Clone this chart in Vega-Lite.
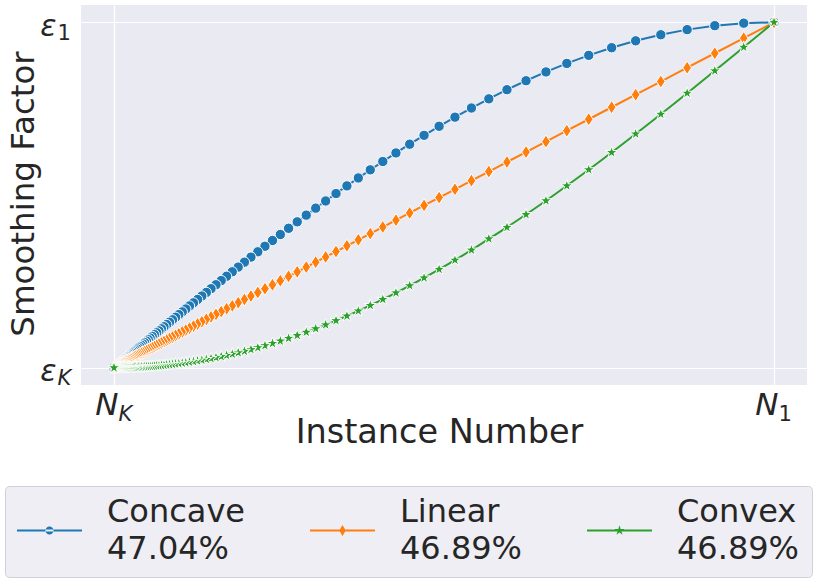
{
  "$schema": "https://vega.github.io/schema/vega-lite/v6.json",
  "width": 726,
  "height": 380,
  "autosize": {"type": "none"},
  "padding": {"left": 81, "top": 5, "right": 6, "bottom": 200},
  "background": "white",
  "config": {
    "font": "DejaVu Sans",
    "view": {"fill": "#eaeaf2", "stroke": null},
    "axis": {
      "domain": false,
      "ticks": false,
      "labelColor": "#262626",
      "titleColor": "#262626",
      "labelFont": "DejaVu Sans",
      "titleFont": "DejaVu Sans",
      "titleFontWeight": "normal",
      "gridColor": "white",
      "gridWidth": 1.2,
      "gridOpacity": 1,
      "labelFlush": false,
      "labelOverlap": false
    },
    "legend": {
      "labelFont": "DejaVu Sans",
      "labelFontSize": 32,
      "labelColor": "#262626",
      "labelLimit": 0,
      "labelOffset": 25,
      "symbolSize": 4225,
      "symbolStrokeWidth": 0,
      "columnPadding": 64,
      "padding": 12,
      "fillColor": "#eeeef4",
      "strokeColor": "#d0d0d8",
      "cornerRadius": 4
    }
  },
  "data": {
    "values": [
      {"curve": "Concave", "x": 1, "y": 1}, {"curve": "Concave", "x": 0.9541, "y": 0.9974}, {"curve": "Concave", "x": 0.9103, "y": 0.9901}, {"curve": "Concave", "x": 0.8684, "y": 0.9787}, {"curve": "Concave", "x": 0.8285, "y": 0.9639},
      {"curve": "Concave", "x": 0.7904, "y": 0.9463}, {"curve": "Concave", "x": 0.754, "y": 0.9263}, {"curve": "Concave", "x": 0.7193, "y": 0.9043}, {"curve": "Concave", "x": 0.6861, "y": 0.8809}, {"curve": "Concave", "x": 0.6545, "y": 0.8563},
      {"curve": "Concave", "x": 0.6243, "y": 0.8308}, {"curve": "Concave", "x": 0.5954, "y": 0.8048}, {"curve": "Concave", "x": 0.5679, "y": 0.7784}, {"curve": "Concave", "x": 0.5416, "y": 0.7518}, {"curve": "Concave", "x": 0.5166, "y": 0.7253},
      {"curve": "Concave", "x": 0.4926, "y": 0.6989}, {"curve": "Concave", "x": 0.4698, "y": 0.6728}, {"curve": "Concave", "x": 0.448, "y": 0.647}, {"curve": "Concave", "x": 0.4272, "y": 0.6218}, {"curve": "Concave", "x": 0.4073, "y": 0.597},
      {"curve": "Concave", "x": 0.3883, "y": 0.5728}, {"curve": "Concave", "x": 0.3702, "y": 0.5493}, {"curve": "Concave", "x": 0.3529, "y": 0.5264}, {"curve": "Concave", "x": 0.3364, "y": 0.5042}, {"curve": "Concave", "x": 0.3207, "y": 0.4827},
      {"curve": "Concave", "x": 0.3056, "y": 0.4619}, {"curve": "Concave", "x": 0.2913, "y": 0.4417}, {"curve": "Concave", "x": 0.2776, "y": 0.4223}, {"curve": "Concave", "x": 0.2645, "y": 0.4036}, {"curve": "Concave", "x": 0.252, "y": 0.3856},
      {"curve": "Concave", "x": 0.2401, "y": 0.3683}, {"curve": "Concave", "x": 0.2287, "y": 0.3516}, {"curve": "Concave", "x": 0.2179, "y": 0.3356}, {"curve": "Concave", "x": 0.2075, "y": 0.3202}, {"curve": "Concave", "x": 0.1976, "y": 0.3055},
      {"curve": "Concave", "x": 0.1882, "y": 0.2913}, {"curve": "Concave", "x": 0.1792, "y": 0.2777}, {"curve": "Concave", "x": 0.1706, "y": 0.2647}, {"curve": "Concave", "x": 0.1624, "y": 0.2523}, {"curve": "Concave", "x": 0.1545, "y": 0.2403},
      {"curve": "Concave", "x": 0.147, "y": 0.2289}, {"curve": "Concave", "x": 0.1399, "y": 0.218}, {"curve": "Concave", "x": 0.1331, "y": 0.2075}, {"curve": "Concave", "x": 0.1266, "y": 0.1975}, {"curve": "Concave", "x": 0.1204, "y": 0.1879},
      {"curve": "Concave", "x": 0.1144, "y": 0.1788}, {"curve": "Concave", "x": 0.1088, "y": 0.17}, {"curve": "Concave", "x": 0.1034, "y": 0.1617}, {"curve": "Concave", "x": 0.0982, "y": 0.1537}, {"curve": "Concave", "x": 0.0933, "y": 0.146},
      {"curve": "Concave", "x": 0.0886, "y": 0.1387}, {"curve": "Concave", "x": 0.0841, "y": 0.1317}, {"curve": "Concave", "x": 0.0798, "y": 0.1251}, {"curve": "Concave", "x": 0.0757, "y": 0.1187}, {"curve": "Concave", "x": 0.0718, "y": 0.1126},
      {"curve": "Concave", "x": 0.0681, "y": 0.1068}, {"curve": "Concave", "x": 0.0646, "y": 0.1012}, {"curve": "Concave", "x": 0.0612, "y": 0.0959}, {"curve": "Concave", "x": 0.0579, "y": 0.0909}, {"curve": "Concave", "x": 0.0548, "y": 0.086},
      {"curve": "Concave", "x": 0.0519, "y": 0.0814}, {"curve": "Concave", "x": 0.0491, "y": 0.077}, {"curve": "Concave", "x": 0.0464, "y": 0.0728}, {"curve": "Concave", "x": 0.0438, "y": 0.0688}, {"curve": "Concave", "x": 0.0414, "y": 0.0649},
      {"curve": "Concave", "x": 0.039, "y": 0.0613}, {"curve": "Concave", "x": 0.0368, "y": 0.0577}, {"curve": "Concave", "x": 0.0347, "y": 0.0544}, {"curve": "Concave", "x": 0.0326, "y": 0.0512}, {"curve": "Concave", "x": 0.0307, "y": 0.0482},
      {"curve": "Concave", "x": 0.0288, "y": 0.0453}, {"curve": "Concave", "x": 0.0271, "y": 0.0425}, {"curve": "Concave", "x": 0.0254, "y": 0.0398}, {"curve": "Concave", "x": 0.0238, "y": 0.0373}, {"curve": "Concave", "x": 0.0222, "y": 0.0349},
      {"curve": "Concave", "x": 0.0208, "y": 0.0326}, {"curve": "Concave", "x": 0.0193, "y": 0.0304}, {"curve": "Concave", "x": 0.018, "y": 0.0283}, {"curve": "Concave", "x": 0.0167, "y": 0.0263}, {"curve": "Concave", "x": 0.0155, "y": 0.0244},
      {"curve": "Concave", "x": 0.0143, "y": 0.0225}, {"curve": "Concave", "x": 0.0132, "y": 0.0208}, {"curve": "Concave", "x": 0.0122, "y": 0.0191}, {"curve": "Concave", "x": 0.0112, "y": 0.0175}, {"curve": "Concave", "x": 0.0102, "y": 0.016},
      {"curve": "Concave", "x": 0.0093, "y": 0.0146}, {"curve": "Concave", "x": 0.0084, "y": 0.0132}, {"curve": "Concave", "x": 0.0076, "y": 0.0119}, {"curve": "Concave", "x": 0.0068, "y": 0.0106}, {"curve": "Concave", "x": 0.006, "y": 0.0094},
      {"curve": "Concave", "x": 0.0053, "y": 0.0082}, {"curve": "Concave", "x": 0.0046, "y": 0.0071}, {"curve": "Concave", "x": 0.0039, "y": 0.0061}, {"curve": "Concave", "x": 0.0033, "y": 0.0051}, {"curve": "Concave", "x": 0.0027, "y": 0.0042},
      {"curve": "Concave", "x": 0.0021, "y": 0.0033}, {"curve": "Concave", "x": 0.0015, "y": 0.0024}, {"curve": "Concave", "x": 0.001, "y": 0.0015}, {"curve": "Concave", "x": 0.0005, "y": 0.0008}, {"curve": "Concave", "x": 0, "y": 0},

      {"curve": "Linear", "x": 1, "y": 1}, {"curve": "Linear", "x": 0.9541, "y": 0.9541}, {"curve": "Linear", "x": 0.9103, "y": 0.9103}, {"curve": "Linear", "x": 0.8684, "y": 0.8684}, {"curve": "Linear", "x": 0.8285, "y": 0.8285},
      {"curve": "Linear", "x": 0.7904, "y": 0.7904}, {"curve": "Linear", "x": 0.754, "y": 0.754}, {"curve": "Linear", "x": 0.7193, "y": 0.7193}, {"curve": "Linear", "x": 0.6861, "y": 0.6861}, {"curve": "Linear", "x": 0.6545, "y": 0.6545},
      {"curve": "Linear", "x": 0.6243, "y": 0.6243}, {"curve": "Linear", "x": 0.5954, "y": 0.5954}, {"curve": "Linear", "x": 0.5679, "y": 0.5679}, {"curve": "Linear", "x": 0.5416, "y": 0.5416}, {"curve": "Linear", "x": 0.5166, "y": 0.5166},
      {"curve": "Linear", "x": 0.4926, "y": 0.4926}, {"curve": "Linear", "x": 0.4698, "y": 0.4698}, {"curve": "Linear", "x": 0.448, "y": 0.448}, {"curve": "Linear", "x": 0.4272, "y": 0.4272}, {"curve": "Linear", "x": 0.4073, "y": 0.4073},
      {"curve": "Linear", "x": 0.3883, "y": 0.3883}, {"curve": "Linear", "x": 0.3702, "y": 0.3702}, {"curve": "Linear", "x": 0.3529, "y": 0.3529}, {"curve": "Linear", "x": 0.3364, "y": 0.3364}, {"curve": "Linear", "x": 0.3207, "y": 0.3207},
      {"curve": "Linear", "x": 0.3056, "y": 0.3056}, {"curve": "Linear", "x": 0.2913, "y": 0.2913}, {"curve": "Linear", "x": 0.2776, "y": 0.2776}, {"curve": "Linear", "x": 0.2645, "y": 0.2645}, {"curve": "Linear", "x": 0.252, "y": 0.252},
      {"curve": "Linear", "x": 0.2401, "y": 0.2401}, {"curve": "Linear", "x": 0.2287, "y": 0.2287}, {"curve": "Linear", "x": 0.2179, "y": 0.2179}, {"curve": "Linear", "x": 0.2075, "y": 0.2075}, {"curve": "Linear", "x": 0.1976, "y": 0.1976},
      {"curve": "Linear", "x": 0.1882, "y": 0.1882}, {"curve": "Linear", "x": 0.1792, "y": 0.1792}, {"curve": "Linear", "x": 0.1706, "y": 0.1706}, {"curve": "Linear", "x": 0.1624, "y": 0.1624}, {"curve": "Linear", "x": 0.1545, "y": 0.1545},
      {"curve": "Linear", "x": 0.147, "y": 0.147}, {"curve": "Linear", "x": 0.1399, "y": 0.1399}, {"curve": "Linear", "x": 0.1331, "y": 0.1331}, {"curve": "Linear", "x": 0.1266, "y": 0.1266}, {"curve": "Linear", "x": 0.1204, "y": 0.1204},
      {"curve": "Linear", "x": 0.1144, "y": 0.1144}, {"curve": "Linear", "x": 0.1088, "y": 0.1088}, {"curve": "Linear", "x": 0.1034, "y": 0.1034}, {"curve": "Linear", "x": 0.0982, "y": 0.0982}, {"curve": "Linear", "x": 0.0933, "y": 0.0933},
      {"curve": "Linear", "x": 0.0886, "y": 0.0886}, {"curve": "Linear", "x": 0.0841, "y": 0.0841}, {"curve": "Linear", "x": 0.0798, "y": 0.0798}, {"curve": "Linear", "x": 0.0757, "y": 0.0757}, {"curve": "Linear", "x": 0.0718, "y": 0.0718},
      {"curve": "Linear", "x": 0.0681, "y": 0.0681}, {"curve": "Linear", "x": 0.0646, "y": 0.0646}, {"curve": "Linear", "x": 0.0612, "y": 0.0612}, {"curve": "Linear", "x": 0.0579, "y": 0.0579}, {"curve": "Linear", "x": 0.0548, "y": 0.0548},
      {"curve": "Linear", "x": 0.0519, "y": 0.0519}, {"curve": "Linear", "x": 0.0491, "y": 0.0491}, {"curve": "Linear", "x": 0.0464, "y": 0.0464}, {"curve": "Linear", "x": 0.0438, "y": 0.0438}, {"curve": "Linear", "x": 0.0414, "y": 0.0414},
      {"curve": "Linear", "x": 0.039, "y": 0.039}, {"curve": "Linear", "x": 0.0368, "y": 0.0368}, {"curve": "Linear", "x": 0.0347, "y": 0.0347}, {"curve": "Linear", "x": 0.0326, "y": 0.0326}, {"curve": "Linear", "x": 0.0307, "y": 0.0307},
      {"curve": "Linear", "x": 0.0288, "y": 0.0288}, {"curve": "Linear", "x": 0.0271, "y": 0.0271}, {"curve": "Linear", "x": 0.0254, "y": 0.0254}, {"curve": "Linear", "x": 0.0238, "y": 0.0238}, {"curve": "Linear", "x": 0.0222, "y": 0.0222},
      {"curve": "Linear", "x": 0.0208, "y": 0.0208}, {"curve": "Linear", "x": 0.0193, "y": 0.0193}, {"curve": "Linear", "x": 0.018, "y": 0.018}, {"curve": "Linear", "x": 0.0167, "y": 0.0167}, {"curve": "Linear", "x": 0.0155, "y": 0.0155},
      {"curve": "Linear", "x": 0.0143, "y": 0.0143}, {"curve": "Linear", "x": 0.0132, "y": 0.0132}, {"curve": "Linear", "x": 0.0122, "y": 0.0122}, {"curve": "Linear", "x": 0.0112, "y": 0.0112}, {"curve": "Linear", "x": 0.0102, "y": 0.0102},
      {"curve": "Linear", "x": 0.0093, "y": 0.0093}, {"curve": "Linear", "x": 0.0084, "y": 0.0084}, {"curve": "Linear", "x": 0.0076, "y": 0.0076}, {"curve": "Linear", "x": 0.0068, "y": 0.0068}, {"curve": "Linear", "x": 0.006, "y": 0.006},
      {"curve": "Linear", "x": 0.0053, "y": 0.0053}, {"curve": "Linear", "x": 0.0046, "y": 0.0046}, {"curve": "Linear", "x": 0.0039, "y": 0.0039}, {"curve": "Linear", "x": 0.0033, "y": 0.0033}, {"curve": "Linear", "x": 0.0027, "y": 0.0027},
      {"curve": "Linear", "x": 0.0021, "y": 0.0021}, {"curve": "Linear", "x": 0.0015, "y": 0.0015}, {"curve": "Linear", "x": 0.001, "y": 0.001}, {"curve": "Linear", "x": 0.0005, "y": 0.0005}, {"curve": "Linear", "x": 0, "y": 0},

      {"curve": "Convex", "x": 1, "y": 1}, {"curve": "Convex", "x": 0.9541, "y": 0.9279}, {"curve": "Convex", "x": 0.9103, "y": 0.8595}, {"curve": "Convex", "x": 0.8684, "y": 0.7948}, {"curve": "Convex", "x": 0.8285, "y": 0.7339},
      {"curve": "Convex", "x": 0.7904, "y": 0.6767}, {"curve": "Convex", "x": 0.754, "y": 0.6231}, {"curve": "Convex", "x": 0.7193, "y": 0.5732}, {"curve": "Convex", "x": 0.6861, "y": 0.5267}, {"curve": "Convex", "x": 0.6545, "y": 0.4835},
      {"curve": "Convex", "x": 0.6243, "y": 0.4435}, {"curve": "Convex", "x": 0.5954, "y": 0.4064}, {"curve": "Convex", "x": 0.5679, "y": 0.3732}, {"curve": "Convex", "x": 0.5416, "y": 0.3406}, {"curve": "Convex", "x": 0.5166, "y": 0.3115},
      {"curve": "Convex", "x": 0.4926, "y": 0.2848}, {"curve": "Convex", "x": 0.4698, "y": 0.2601}, {"curve": "Convex", "x": 0.448, "y": 0.2375}, {"curve": "Convex", "x": 0.4272, "y": 0.2168}, {"curve": "Convex", "x": 0.4073, "y": 0.1978},
      {"curve": "Convex", "x": 0.3883, "y": 0.1803}, {"curve": "Convex", "x": 0.3702, "y": 0.1644}, {"curve": "Convex", "x": 0.3529, "y": 0.1498}, {"curve": "Convex", "x": 0.3364, "y": 0.1364}, {"curve": "Convex", "x": 0.3207, "y": 0.1242},
      {"curve": "Convex", "x": 0.3056, "y": 0.1131}, {"curve": "Convex", "x": 0.2913, "y": 0.1029}, {"curve": "Convex", "x": 0.2776, "y": 0.0936}, {"curve": "Convex", "x": 0.2645, "y": 0.0851}, {"curve": "Convex", "x": 0.252, "y": 0.0773},
      {"curve": "Convex", "x": 0.2401, "y": 0.0703}, {"curve": "Convex", "x": 0.2287, "y": 0.0639}, {"curve": "Convex", "x": 0.2179, "y": 0.058}, {"curve": "Convex", "x": 0.2075, "y": 0.0527}, {"curve": "Convex", "x": 0.1976, "y": 0.0478},
      {"curve": "Convex", "x": 0.1882, "y": 0.0434}, {"curve": "Convex", "x": 0.1792, "y": 0.0393}, {"curve": "Convex", "x": 0.1706, "y": 0.0357}, {"curve": "Convex", "x": 0.1624, "y": 0.0323}, {"curve": "Convex", "x": 0.1545, "y": 0.0293},
      {"curve": "Convex", "x": 0.147, "y": 0.0266}, {"curve": "Convex", "x": 0.1399, "y": 0.024}, {"curve": "Convex", "x": 0.1331, "y": 0.0218}, {"curve": "Convex", "x": 0.1266, "y": 0.0197}, {"curve": "Convex", "x": 0.1204, "y": 0.0178},
      {"curve": "Convex", "x": 0.1144, "y": 0.0161}, {"curve": "Convex", "x": 0.1088, "y": 0.0146}, {"curve": "Convex", "x": 0.1034, "y": 0.0132}, {"curve": "Convex", "x": 0.0982, "y": 0.0119}, {"curve": "Convex", "x": 0.0933, "y": 0.0107},
      {"curve": "Convex", "x": 0.0886, "y": 0.0097}, {"curve": "Convex", "x": 0.0841, "y": 0.0087}, {"curve": "Convex", "x": 0.0798, "y": 0.0079}, {"curve": "Convex", "x": 0.0757, "y": 0.0071}, {"curve": "Convex", "x": 0.0718, "y": 0.0064},
      {"curve": "Convex", "x": 0.0681, "y": 0.0057}, {"curve": "Convex", "x": 0.0646, "y": 0.0051}, {"curve": "Convex", "x": 0.0612, "y": 0.0046}, {"curve": "Convex", "x": 0.0579, "y": 0.0041}, {"curve": "Convex", "x": 0.0548, "y": 0.0037},
      {"curve": "Convex", "x": 0.0519, "y": 0.0033}, {"curve": "Convex", "x": 0.0491, "y": 0.003}, {"curve": "Convex", "x": 0.0464, "y": 0.0027}, {"curve": "Convex", "x": 0.0438, "y": 0.0024}, {"curve": "Convex", "x": 0.0414, "y": 0.0021},
      {"curve": "Convex", "x": 0.039, "y": 0.0019}, {"curve": "Convex", "x": 0.0368, "y": 0.0017}, {"curve": "Convex", "x": 0.0347, "y": 0.0015}, {"curve": "Convex", "x": 0.0326, "y": 0.0013}, {"curve": "Convex", "x": 0.0307, "y": 0.0012},
      {"curve": "Convex", "x": 0.0288, "y": 0.001}, {"curve": "Convex", "x": 0.0271, "y": 0.0009}, {"curve": "Convex", "x": 0.0254, "y": 0.0008}, {"curve": "Convex", "x": 0.0238, "y": 0.0007}, {"curve": "Convex", "x": 0.0222, "y": 0.0006},
      {"curve": "Convex", "x": 0.0208, "y": 0.0005}, {"curve": "Convex", "x": 0.0193, "y": 0.0005}, {"curve": "Convex", "x": 0.018, "y": 0.0004}, {"curve": "Convex", "x": 0.0167, "y": 0.0003}, {"curve": "Convex", "x": 0.0155, "y": 0.0003},
      {"curve": "Convex", "x": 0.0143, "y": 0.0003}, {"curve": "Convex", "x": 0.0132, "y": 0.0002}, {"curve": "Convex", "x": 0.0122, "y": 0.0002}, {"curve": "Convex", "x": 0.0112, "y": 0.0002}, {"curve": "Convex", "x": 0.0102, "y": 0.0001},
      {"curve": "Convex", "x": 0.0093, "y": 0.0001}, {"curve": "Convex", "x": 0.0084, "y": 0.0001}, {"curve": "Convex", "x": 0.0076, "y": 0.0001}, {"curve": "Convex", "x": 0.0068, "y": 0.0001}, {"curve": "Convex", "x": 0.006, "y": 0},
      {"curve": "Convex", "x": 0.0053, "y": 0}, {"curve": "Convex", "x": 0.0046, "y": 0}, {"curve": "Convex", "x": 0.0039, "y": 0}, {"curve": "Convex", "x": 0.0033, "y": 0}, {"curve": "Convex", "x": 0.0027, "y": 0},
      {"curve": "Convex", "x": 0.0021, "y": 0}, {"curve": "Convex", "x": 0.0015, "y": 0}, {"curve": "Convex", "x": 0.001, "y": 0}, {"curve": "Convex", "x": 0.0005, "y": 0}, {"curve": "Convex", "x": 0, "y": 0}
    ]
  },
  "encoding": {
    "color": {
      "field": "curve",
      "type": "nominal",
      "scale": {"domain": ["Concave", "Linear", "Convex"], "range": ["#1f77b4", "#ff7f0e", "#2ca02c"]},
      "legend": {
        "title": null,
        "orient": "none",
        "direction": "horizontal",
        "columns": 3,
        "legendX": -76,
        "legendY": 481,
        "labelExpr": "datum.label == 'Concave' ? ['Concave', '47.04%'] : datum.label == 'Linear' ? ['Linear', '46.89%'] : ['Convex', '46.89%']",
        "encode": {
          "symbols": {
            "update": {
              "shape": {"signal": "datum.value == 'Concave' ? 'M-1,-0.03L1,-0.03L1,0.03L-1,0.03ZM-0.125,0A0.125,0.125 0 1,0 0.125,0A0.125,0.125 0 1,0 -0.125,0Z' : datum.value == 'Linear' ? 'M-1,-0.03L1,-0.03L1,0.03L-1,0.03ZM0,-0.17L0.1,0L0,0.17L-0.1,0Z' : 'M-1,-0.03L1,-0.03L1,0.03L-1,0.03ZM0,-0.16L0.036,-0.049L0.152,-0.049L0.058,0.019L0.094,0.129L0,0.061L-0.094,0.129L-0.058,0.019L-0.152,-0.049L-0.036,-0.049Z'"},
              "fill": {"scale": "color", "field": "value"},
              "stroke": {"value": "transparent"},
              "size": {"value": 4225},
              "strokeWidth": {"value": 0},
              "opacity": {"value": 1}
            }
          },
          "labels": {"update": {"lineHeight": {"value": 36.7}, "dy": {"value": -18.3}}}
        }
      }
    }
  },
  "layer": [
    {
      "mark": {"type": "line", "strokeWidth": 2},
      "encoding": {
        "x": {
          "field": "x",
          "type": "quantitative",
          "scale": {"domain": [-0.05, 1.05], "nice": false, "zero": false},
          "axis": {
            "orient": "bottom",
            "values": [0, 1],
            "grid": true,
            "labelExpr": "'N'",
            "labelFontSize": 31,
            "labelFontStyle": "italic",
            "labelAlign": "right",
            "labelBaseline": "top",
            "labelOffset": 4,
            "labelPadding": 5,
            "title": "Instance Number",
            "titleFontSize": 33.5,
            "titleBaseline": "alphabetic",
            "titleX": 358,
            "titleY": 57
          }
        },
        "y": {
          "field": "y",
          "type": "quantitative",
          "scale": {"domain": [-0.05, 1.05], "nice": false, "zero": false},
          "axis": {
            "orient": "left",
            "values": [0, 1],
            "grid": true,
            "labelExpr": "'ε'",
            "labelFontSize": 30,
            "labelFontStyle": "italic",
            "labelAlign": "right",
            "labelBaseline": "middle",
            "labelPadding": 25,
            "labelOffset": 4,
            "title": "Smoothing Factor",
            "titleFontSize": 32.5,
            "titleAngle": -90,
            "titleAlign": "center",
            "titleBaseline": "alphabetic",
            "titleX": -48,
            "titleY": 188.5
          }
        }
      }
    },
    {
      "transform": [{"filter": "datum.curve == 'Concave'"}],
      "mark": {"type": "point", "filled": true, "size": 196, "opacity": 1, "stroke": "white", "strokeWidth": 1, "shape": "M-0.74,0A0.74,0.74 0 1,0 0.74,0A0.74,0.74 0 1,0 -0.74,0Z"},
      "encoding": {
        "x": {
          "field": "x",
          "type": "quantitative",
          "scale": {"domain": [-0.05, 1.05], "nice": false, "zero": false},
          "axis": {
            "orient": "bottom",
            "values": [0, 1],
            "grid": false,
            "labelExpr": "datum.value == 0 ? 'K' : '1'",
            "labelFontSize": 21,
            "labelFontStyle": {"condition": {"test": "datum.value == 0", "value": "italic"}, "value": "normal"},
            "labelAlign": "left",
            "labelBaseline": "top",
            "labelOffset": 4,
            "labelPadding": 18,
            "title": null
          }
        },
        "y": {
          "field": "y",
          "type": "quantitative",
          "scale": {"domain": [-0.05, 1.05], "nice": false, "zero": false},
          "axis": {
            "orient": "left",
            "values": [0, 1],
            "grid": false,
            "labelExpr": "datum.value == 0 ? 'K' : '1'",
            "labelFontSize": 21,
            "labelFontStyle": {"condition": {"test": "datum.value == 0", "value": "italic"}, "value": "normal"},
            "labelAlign": "left",
            "labelBaseline": "middle",
            "labelPadding": 24,
            "labelOffset": 11,
            "title": null
          }
        }
      }
    },
    {
      "transform": [{"filter": "datum.curve == 'Linear'"}],
      "mark": {"type": "point", "filled": true, "size": 196, "opacity": 1, "stroke": "white", "strokeWidth": 1, "shape": "M0,-0.95L0.62,0L0,0.95L-0.62,0Z"},
      "encoding": {
        "x": {"field": "x", "type": "quantitative", "scale": {"domain": [-0.05, 1.05], "nice": false, "zero": false}, "axis": null},
        "y": {"field": "y", "type": "quantitative", "scale": {"domain": [-0.05, 1.05], "nice": false, "zero": false}, "axis": null}
      }
    },
    {
      "transform": [{"filter": "datum.curve == 'Convex'"}],
      "mark": {"type": "point", "filled": true, "size": 196, "opacity": 1, "stroke": "white", "strokeWidth": 1, "shape": "M0,-0.9L0.2021,-0.2781L0.856,-0.2781L0.327,0.1062L0.529,0.7281L0,0.3438L-0.529,0.7281L-0.327,0.1062L-0.856,-0.2781L-0.2021,-0.2781Z"},
      "encoding": {
        "x": {"field": "x", "type": "quantitative", "scale": {"domain": [-0.05, 1.05], "nice": false, "zero": false}, "axis": null},
        "y": {"field": "y", "type": "quantitative", "scale": {"domain": [-0.05, 1.05], "nice": false, "zero": false}, "axis": null}
      }
    }
  ],
  "resolve": {
    "scale": {"x": "shared", "y": "shared"},
    "axis": {"x": "independent", "y": "independent"}
  }
}
